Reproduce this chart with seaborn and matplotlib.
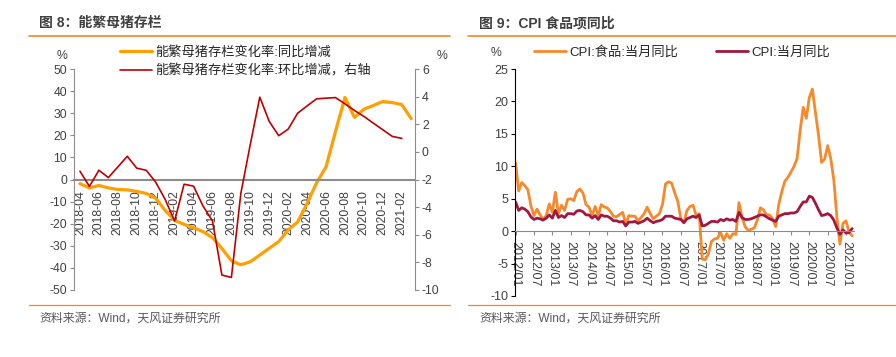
import numpy as np
import pandas as pd
import matplotlib
matplotlib.use("Agg")
import matplotlib.pyplot as plt
import seaborn as sns

sns.set_style("white")
plt.rcParams["font.family"] = ["Liberation Sans", "Noto Sans CJK SC", "DejaVu Sans"]
plt.rcParams["axes.unicode_minus"] = False

# ===== 图8 数据：能繁母猪存栏 (2018-04 ~ 2021-03) =====
sow_months = pd.date_range("2018-04-01", periods=36, freq="MS")
sow_yoy = [-1.9, -3.8, -2.7, -3.8, -4.5, -4.7, -5.4, -6.3, -8.5, -14.0, -18.5, -20.3,
           -21.8, -23.6, -26.3, -31.2, -36.8, -38.6, -37.2, -34.2, -31.1, -28.1, -22.8, -19.2,
           -10.8, -1.5, 5.7, 21.8, 37.1, 28.1, 31.8, 33.5, 35.3, 34.8, 33.9, 27.5]
sow_mom = [-1.40, -2.50, -1.33, -1.86, -1.09, -0.32, -1.18, -1.33, -2.19, -3.44, -5.00, -2.34,
           -2.48, -3.92, -5.00, -8.92, -9.09, -3.00, 0.55, 3.96, 2.20, 1.17, 1.65, 2.80,
           3.33, 3.84, 3.89, 3.93, 3.48, 3.00, 2.57, 2.08, 1.60, 1.12, 0.98]

# ===== 图9 数据：CPI (2012-01 ~ 2021-03) =====
cpi_months = pd.date_range("2012-01-01", periods=111, freq="MS")
cpi_food = [10.5, 6.2, 7.5, 7.0, 6.4, 3.9, 2.4, 3.4, 2.5, 1.8, 2.4, 4.2,
            2.9, 6.0, 2.7, 4.0, 3.2, 4.9, 5.0, 4.7, 6.1, 6.5, 5.9, 4.1,
            3.7, 2.4, 3.8, 2.4, 4.1, 3.7, 3.6, 3.0, 2.3, 2.2, 2.6, 2.9,
            1.1, 2.4, 2.3, 2.3, 1.6, 2.1, 2.7, 3.7, 2.7, 1.9, 2.3, 2.7,
            4.1, 7.3, 7.6, 7.4, 5.9, 4.6, 1.9, 1.3, 3.2, 3.8, 4.0, 2.4,
            2.7, -4.3, -4.4, -3.5, -1.6, -1.2, -1.1, -0.2, -1.4, -0.4, -1.1, -0.4,
            -0.5, 4.4, 2.1, 0.7, 0.1, 0.3, 0.5, 1.7, 3.6, 3.3, 2.5, 2.5,
            1.9, 0.7, 4.1, 6.1, 7.7, 8.3, 9.1, 10.0, 11.2, 15.5, 19.1, 17.4,
            20.6, 21.9, 18.3, 14.8, 10.6, 11.1, 13.2, 11.2, 7.9, 2.2, -2.0, 1.2,
            1.6, -0.2, -0.7]
cpi_all = [4.5, 3.2, 3.6, 3.4, 3.0, 2.2, 1.8, 2.0, 1.9, 1.7, 2.0, 2.5,
           2.0, 3.2, 2.1, 2.4, 2.1, 2.7, 2.7, 2.6, 3.1, 3.2, 3.0, 2.5,
           2.5, 2.0, 2.4, 1.8, 2.5, 2.3, 2.3, 2.0, 1.6, 1.6, 1.4, 1.5,
           0.8, 1.4, 1.4, 1.5, 1.2, 1.4, 1.6, 2.0, 1.6, 1.3, 1.5, 1.6,
           1.8, 2.3, 2.3, 2.3, 2.0, 1.9, 1.8, 1.3, 1.9, 2.1, 2.3, 2.1,
           2.5, 0.8, 0.9, 1.2, 1.5, 1.5, 1.4, 1.8, 1.6, 1.9, 1.7, 1.8,
           1.5, 2.9, 2.1, 1.8, 1.8, 1.9, 2.1, 2.3, 2.5, 2.5, 2.2, 1.9,
           1.7, 1.5, 2.3, 2.5, 2.7, 2.7, 2.8, 2.8, 3.0, 3.8, 4.5, 4.5,
           5.4, 5.2, 4.3, 3.3, 2.4, 2.5, 2.7, 2.4, 1.7, 0.5, -0.5, 0.2,
           -0.3, -0.2, 0.4]

sow_df = pd.DataFrame({"idx": np.arange(len(sow_yoy)), "yoy": sow_yoy})
sow_mom_df = pd.DataFrame({"idx": np.arange(len(sow_mom)), "mom": sow_mom})
cpi_df = pd.DataFrame({"idx": np.arange(len(cpi_food)), "food": cpi_food, "all": cpi_all})

C_ORANGE_L = "#FFA000"
C_RED_L = "#C00000"
C_ORANGE_R = "#F7892B"
C_MAROON = "#A3173F"
C_TEXT = "#404040"
C_GRAY = "#8C8C8C"
C_RULE = "#F08A24"

fig = plt.figure(figsize=(8.96, 3.57), dpi=100)

def fx(px):
    return px / 896

def fy(py):
    return 1 - py / 357

# ===== 标题、分隔线、来源 =====
fig.text(fx(39), fy(23), "图 8：能繁母猪存栏", fontsize=10, fontweight="bold",
         color=C_TEXT, va="center", ha="left")
fig.text(fx(479), fy(23), "图 9：CPI 食品项同比", fontsize=10, fontweight="bold",
         color=C_TEXT, va="center", ha="left")
for x0, x1 in [(29, 450), (468, 896)]:
    fig.add_artist(plt.Line2D([fx(x0), fx(x1)], [fy(35.5), fy(35.5)], color=C_RULE, lw=1.2))
    fig.add_artist(plt.Line2D([fx(x0), fx(x1)], [fy(305), fy(305)], color=C_RULE, lw=0.9))
fig.text(fx(39), fy(319), "资料来源：Wind，天风证券研究所", fontsize=8.6, color="#595959",
         va="center", ha="left")
fig.text(fx(479), fy(319), "资料来源：Wind，天风证券研究所", fontsize=8.6, color="#595959",
         va="center", ha="left")

# ===== 图8 =====
ax = fig.add_axes([fx(74), fy(290), fx(415 - 74), (290 - 69) / 357])
ax2 = ax.twinx()
sns.lineplot(data=sow_df, x="idx", y="yoy", ax=ax, color=C_ORANGE_L, lw=2.3,
             label="能繁母猪存栏变化率:同比增减", legend=False)
sns.lineplot(data=sow_mom_df, x="idx", y="mom", ax=ax2, color=C_RED_L, lw=1.2,
             label="能繁母猪存栏变化率:环比增减，右轴", legend=False)
ax.set_xlim(-0.63, 35.4)
ax.set_ylim(-50, 50)
ax.set_yticks(np.arange(-50, 51, 10))
ax2.set_ylim(-10, 6)
ax2.set_yticks(np.arange(-10, 7, 2))
ax.set_xticks(np.arange(0, 35, 2))
ax.set_xticklabels([d.strftime("%Y-%m") for d in sow_months[0:35:2]])
for a in (ax, ax2):
    a.set_xlabel("")
    a.set_ylabel("")
    for s in a.spines.values():
        s.set_color(C_GRAY)
    a.spines["top"].set_visible(False)
ax.spines["right"].set_visible(False)
ax2.spines["left"].set_visible(False)
ax2.spines["bottom"].set_visible(False)
ax.spines["bottom"].set_position(("data", 0))
ax.spines["bottom"].set_linewidth(1.5)
ax.tick_params(axis="x", length=0, pad=8, labelsize=8.8, labelcolor=C_TEXT, labelrotation=90)
ax.tick_params(axis="y", left=True, length=3, color=C_GRAY, labelsize=8.8, labelcolor=C_TEXT, pad=2)
ax2.tick_params(axis="y", right=True, length=3, color=C_GRAY, labelsize=8.8, labelcolor=C_TEXT, pad=2)
for t in ax.get_xticklabels():
    t.set_va("top")
    t.set_ha("center")
fig.text(fx(62), fy(56), "%", fontsize=8.8, color=C_TEXT, ha="center", va="center")
fig.text(fx(442), fy(56), "%", fontsize=8.8, color=C_TEXT, ha="center", va="center")
h1, l1 = ax.get_legend_handles_labels()
h2, l2 = ax2.get_legend_handles_labels()
fig.legend(h1 + h2, l1 + l2, loc="upper left", bbox_to_anchor=(fx(120), fy(46)),
           frameon=False, fontsize=9.5, handlelength=2.4, handletextpad=0.25,
           labelspacing=0.45, borderpad=0, borderaxespad=0)

# ===== 图9 =====
bx = fig.add_axes([fx(515), fy(296), fx(854 - 515), (296 - 69) / 357])
sns.lineplot(data=cpi_df, x="idx", y="food", ax=bx, color=C_ORANGE_R, lw=2.0,
             label="CPI:食品:当月同比", legend=False)
sns.lineplot(data=cpi_df, x="idx", y="all", ax=bx, color=C_MAROON, lw=2.0,
             label="CPI:当月同比", legend=False)
bx.set_xlim(-0.2, 110.6)
bx.set_ylim(-10, 25)
bx.set_yticks(np.arange(-10, 26, 5))
bx.set_xticks(np.arange(0, 109, 6))
bx.set_xticklabels([d.strftime("%Y/%m") for d in cpi_months[0:109:6]])
bx.set_xlabel("")
bx.set_ylabel("")
bx.spines["top"].set_visible(False)
bx.spines["right"].set_visible(False)
bx.spines["left"].set_color("#000000")
bx.spines["bottom"].set_position(("data", 0))
bx.spines["bottom"].set_color(C_GRAY)
bx.tick_params(axis="x", bottom=True, length=3, color=C_GRAY, pad=4, labelsize=9,
               labelcolor=C_TEXT, labelrotation=270)
bx.tick_params(axis="y", left=True, length=3, color="#000000", labelsize=9, labelcolor=C_TEXT, pad=2)
for t in bx.get_xticklabels():
    t.set_va("top")
    t.set_ha("center")
fig.text(fx(496), fy(53), "%", fontsize=8.8, color=C_TEXT, ha="center", va="center")
bx.legend(loc="upper left", bbox_to_anchor=(fx(534), fy(46)), bbox_transform=fig.transFigure,
          ncol=2, frameon=False, fontsize=9.5, handlelength=2.4, handletextpad=0.25,
          columnspacing=2.9, borderpad=0, borderaxespad=0)

fig.savefig("out.png", dpi=100)
